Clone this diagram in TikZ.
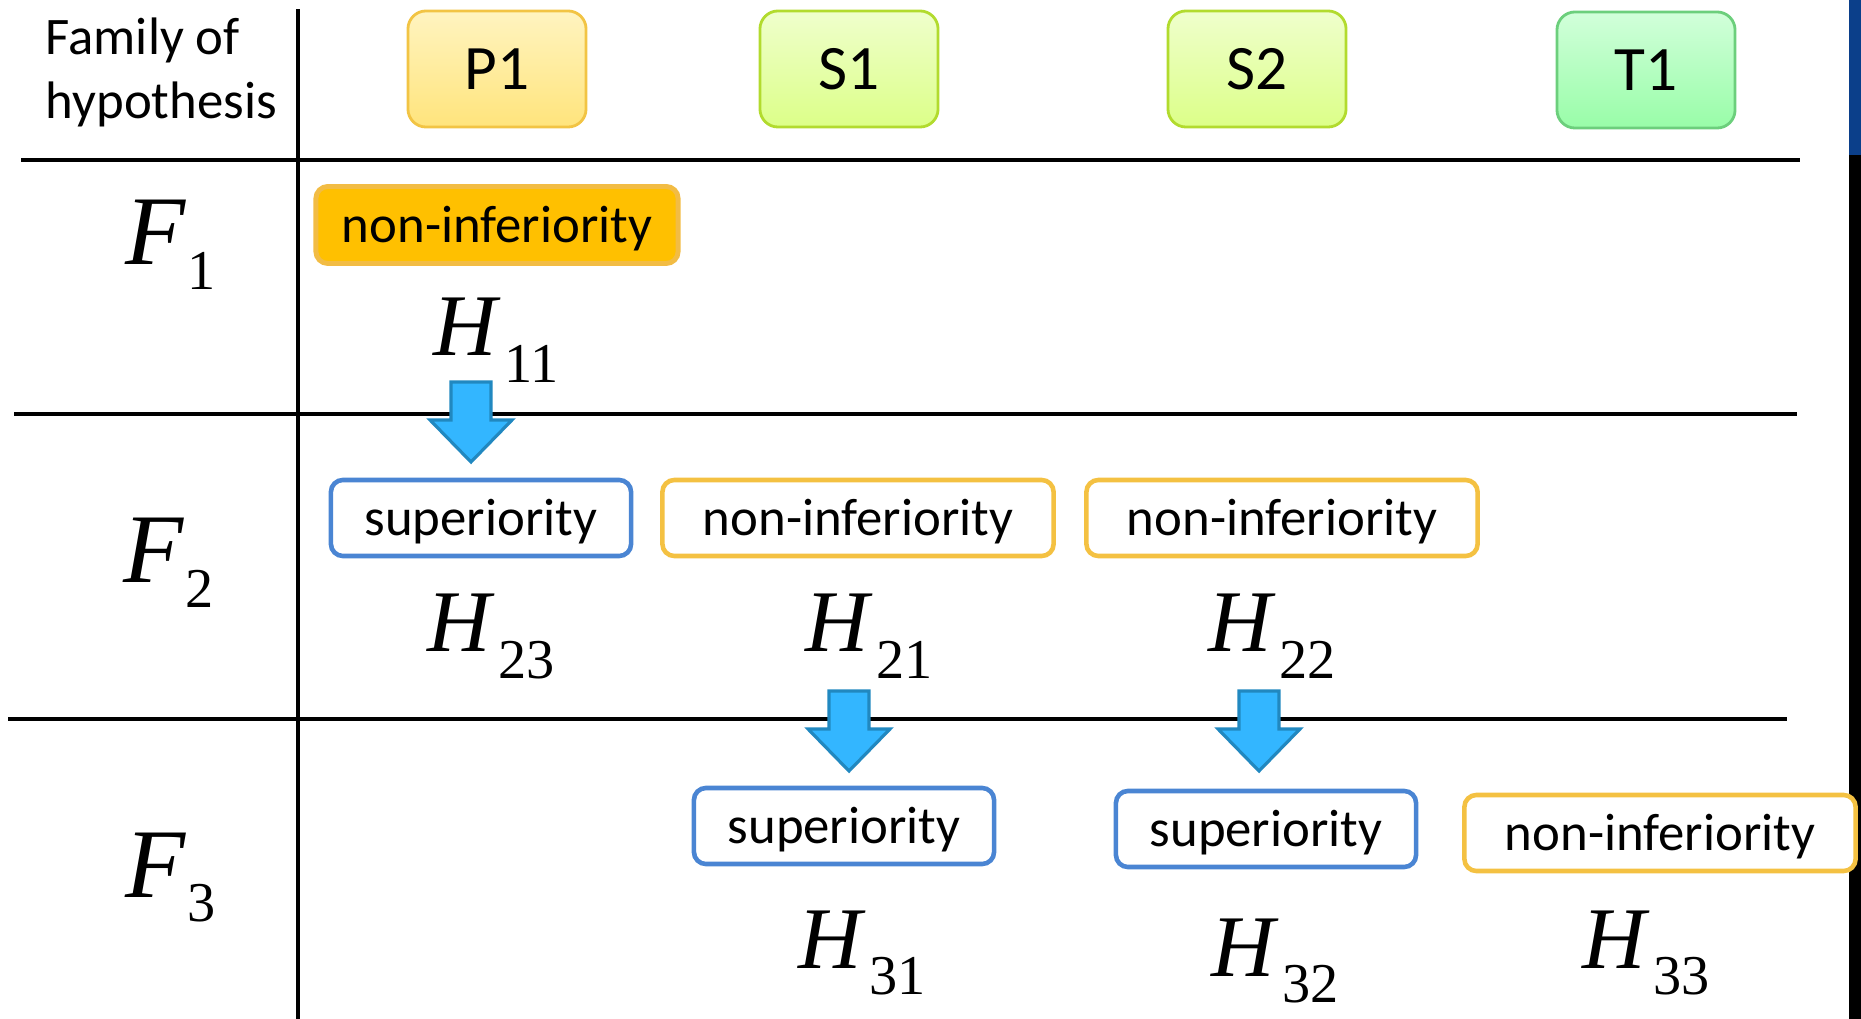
\documentclass[tikz,border=0pt]{standalone}
\usepackage{fontspec}
\setmainfont{Carlito}
\newfontfamily\timesfont{Liberation Serif}

\definecolor{ptop}{HTML}{FFF4C0}
\definecolor{pbot}{HTML}{FFE47C}
\definecolor{pedge}{HTML}{F2C444}
\definecolor{stop}{HTML}{EFFFCC}
\definecolor{sbot}{HTML}{DCFF88}
\definecolor{sedge}{HTML}{B2DB2E}
\definecolor{ttop}{HTML}{D2FFDA}
\definecolor{tbot}{HTML}{98FDA8}
\definecolor{tedge}{HTML}{6CCF7C}
\definecolor{nifill}{HTML}{FFC000}
\definecolor{nifilledge}{HTML}{F2BC44}
\definecolor{supblue}{HTML}{4A85D3}
\definecolor{niorange}{HTML}{F4C142}
\definecolor{arrowfill}{HTML}{33B6FF}
\definecolor{arrowedge}{HTML}{2188C0}
\definecolor{stripblue}{HTML}{0B3F8A}

% family and hypothesis symbols, set like the equation editor does
\newcommand\famlabel[1]{{\fontsize{28}{28}\timesfont\itshape F}\kern0.5pt\raisebox{-7pt}{\fontsize{16}{16}\timesfont #1}}
\newcommand\hyplabel[1]{{\fontsize{25}{25}\timesfont\itshape H}\kern2pt\raisebox{-7.5pt}{\fontsize{16}{16}\timesfont #1}}

\tikzset{
  phase/.style={draw, rounded corners=0.18cm, line width=0.8pt, minimum width=1.78cm, minimum height=1.16cm, font=\fontsize{18}{18}\selectfont},
  test/.style={rounded corners=0.12cm, line width=1.3pt, minimum height=0.76cm, inner sep=0pt, text height=11pt, text depth=1pt, font=\fontsize{15}{15}\selectfont},
  sup/.style={test, draw=supblue, fill=white, minimum width=3.0cm},
  noninf/.style={test, draw=niorange, fill=white, minimum width=3.91cm},
  hyp/.style={anchor=base west, inner sep=0pt},
  gridline/.style={line width=0.9pt},
  downarrow/.pic={
    \draw[line width=0.9pt, draw=arrowedge, fill=arrowfill]
      (-20,0) -- (20,0) -- (20,38) -- (41,38) -- (0,80) -- (-41,38) -- (-20,38) -- cycle;
  }
}

\begin{document}
\begin{tikzpicture}[x=0.01cm, y=-0.01cm]
	\useasboundingbox (0,0) rectangle (1861,1019);

	% edge of the slide
	\fill[stripblue] (1849,0) rectangle (1861,155);
	\fill[black] (1849,155) rectangle (1861,1019);

	% table rules
	\draw[gridline] (298,9.5) -- (298,1019);
	\draw[gridline] (21,160) -- (1800,160);
	\draw[gridline] (14,414) -- (1797,414);
	\draw[gridline] (8,719) -- (1787,719);

	% header row
	\node[anchor=west, align=left, inner sep=0pt, font=\fontsize{15}{18.2}\selectfont] (family) at (45,72) {Family of\\hypothesis};
	\node[phase, top color=ptop, bottom color=pbot, draw=pedge] (P1) at (497,69) {P1};
	\node[phase, top color=stop, bottom color=sbot, draw=sedge] (S1) at (849,69) {S1};
	\node[phase, top color=stop, bottom color=sbot, draw=sedge] (S2) at (1257,69) {S2};
	\node[phase, top color=ttop, bottom color=tbot, draw=tedge] (T1) at (1646,70) {T1};

	% families
	\node[hyp] (F1) at (125,265) {\famlabel{1}};
	\node[hyp] (F2) at (123,583) {\famlabel{2}};
	\node[hyp] (F3) at (125,897) {\famlabel{3}};

	% first family
	\node[test, fill=nifill, draw=nifilledge, line width=1.4pt, minimum width=3.62cm, minimum height=0.77cm] (ni11) at (497,225) {non-inferiority};
	\node[hyp] (H11) at (433,356) {\hyplabel{11}};

	% second family
	\node[sup] (sup23) at (481,518) {superiority};
	\node[noninf] (ni21) at (858,518) {non-inferiority};
	\node[noninf] (ni22) at (1282,518) {non-inferiority};
	\node[hyp] (H23) at (427,652) {\hyplabel{23}};
	\node[hyp] (H21) at (805,652) {\hyplabel{21}};
	\node[hyp] (H22) at (1208,652) {\hyplabel{22}};

	% third family
	\node[sup] (sup31) at (844,826) {superiority};
	\node[sup] (sup32) at (1266,829) {superiority};
	\node[noninf] (ni33) at (1660,833) {non-inferiority};
	\node[hyp] (H31) at (798,968) {\hyplabel{31}};
	\node[hyp] (H32) at (1211,976) {\hyplabel{32}};
	\node[hyp] (H33) at (1582,968) {\hyplabel{33}};

	% passing on the alpha
	\coordinate (a1) at (471,382);
	\coordinate (a2) at (849,691);
	\coordinate (a3) at (1259,691);
	\path (a1) pic {downarrow};
	\path (a2) pic {downarrow};
	\path (a3) pic {downarrow};
\end{tikzpicture}
\end{document}
